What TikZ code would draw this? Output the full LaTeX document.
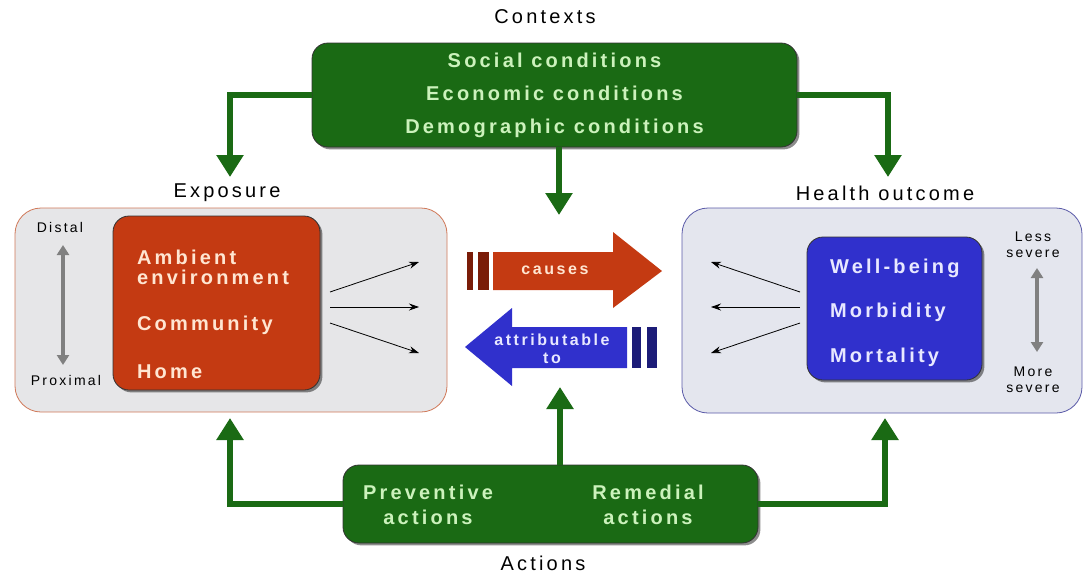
\documentclass[tikz,border=0pt]{standalone}
\usepackage{fontspec}
\setmainfont{Liberation Sans}
\newfontfamily\spfont[LetterSpace=16]{Liberation Sans}
\usetikzlibrary{arrows.meta,shadows}
\definecolor{ctxgreen}{HTML}{1A6A14}
\definecolor{txtgreen}{HTML}{CCF2BC}
\definecolor{exred}{HTML}{C43A12}
\definecolor{exredd}{HTML}{7A1C08}
\definecolor{exedge}{HTML}{D07858}
\definecolor{exgray}{HTML}{E6E6E8}
\definecolor{hoblue}{HTML}{3030CC}
\definecolor{hoblued}{HTML}{1C1C78}
\definecolor{hoedge}{HTML}{5A5AA8}
\definecolor{hogray}{HTML}{E4E6EE}
\definecolor{peach}{HTML}{FFE6D2}
\definecolor{lilac}{HTML}{E8E8FF}
\tikzset{
  lbl/.style={font=\spfont\fontsize{10}{12}\selectfont},
  boxtxt/.style={font=\spfont\bfseries\fontsize{10}{12}\selectfont},
  smalltxt/.style={font=\spfont\fontsize{7}{8}\selectfont,align=center},
  arrowtxt/.style={font=\spfont\bfseries\fontsize{8}{9}\selectfont,align=center},
  panel/.style={draw,thin,rounded corners=13pt,inner sep=0pt},
  core/.style={draw=black!80,rounded corners=8pt,inner sep=0pt,
    drop shadow={shadow xshift=1.2pt,shadow yshift=-1.2pt,fill=black,opacity=.45}},
  greenbox/.style={core,fill=ctxgreen,text=txtgreen,boxtxt,align=center},
  gflow/.style={draw=ctxgreen,line width=3pt,-{Triangle[width=13pt,length=11pt]}},
  infl/.style={thin,-{Stealth[length=5pt,width=3.5pt]}},
  sevrange/.style={draw=gray,line width=2pt,
    {Triangle[width=6pt,length=5pt]}-{Triangle[width=6pt,length=5pt]}}
}
\begin{document}
\begin{tikzpicture}[x=.5pt,y=-.5pt]
\useasboundingbox (0,0) rectangle (1083,574);
\node[lbl] (ctxlbl) at (545,17) {Contexts};
\node[greenbox,minimum width=242.5pt,minimum height=52pt] (ctx) at (554.5,95)
  {Social conditions\\[4.5pt]Economic conditions\\[4.5pt]Demographic conditions};
\node[lbl] (explbl) at (227,193) {Exposure};
\node[lbl] (hlbl) at (885,193) {Health outcome};
\node[panel,draw=exedge,fill=exgray,minimum width=216pt,minimum height=102pt] (expo) at (231,310) {};
\node[panel,draw=hoedge,fill=hogray,minimum width=200pt,minimum height=102.5pt] (hout) at (882,310.5) {};
\node[core,fill=exred,minimum width=103.5pt,minimum height=87pt] (amb) at (216.5,303) {};
\node[boxtxt,text=peach,anchor=west,align=left] (ambtxt) at (130,267) {Ambient\\[-2pt]environment};
\node[boxtxt,text=peach,anchor=west] (comm) at (130,325) {Community};
\node[boxtxt,text=peach,anchor=west] (home) at (130,372) {Home};
\node[core,fill=hoblue,minimum width=87.5pt,minimum height=71.5pt] (wb) at (894.5,308.5) {};
\node[boxtxt,text=lilac,anchor=west] (well) at (823,268) {Well-being};
\node[boxtxt,text=lilac,anchor=west] (morb) at (823,312) {Morbidity};
\node[boxtxt,text=lilac,anchor=west] (mort) at (823,357) {Mortality};
\node[smalltxt] (distal) at (60,227) {Distal};
\node[smalltxt] (prox) at (66,380) {Proximal};
\coordinate (dtop) at (63,245);
\coordinate (dbot) at (63,365);
\draw[sevrange] (dtop) -- (dbot);
\node[smalltxt] (less) at (1033,245) {Less\\severe};
\node[smalltxt] (more) at (1033,380) {More\\severe};
\coordinate (stop) at (1037,268);
\coordinate (sbot) at (1037,352);
\draw[sevrange] (stop) -- (sbot);
\foreach \s/\e [count=\i] in {292/262,307/307,323/353}{
  \coordinate (es\i) at (330,\s);
  \coordinate (ee\i) at (419,\e);
  \draw[infl] (es\i) -- (ee\i);
  \coordinate (hs\i) at (800,\s);
  \coordinate (he\i) at (711,\e);
  \draw[infl] (hs\i) -- (he\i);
}
\begin{scope}[drop shadow={shadow xshift=1pt,shadow yshift=-1pt,fill=black,opacity=.5}]
\fill[exredd] (467,252) rectangle (473,290);
\fill[exredd] (478,252) rectangle (489,290);
\fill[exred] (493,252) -- (613,252) -- (613,232) -- (662,271) -- (613,308) -- (613,290) -- (493,290) -- cycle;
\fill[hoblue] (465,347) -- (512,308) -- (512,327) -- (627,327) -- (627,368) -- (512,368) -- (512,386) -- cycle;
\fill[hoblued] (632,327) rectangle (641,368);
\fill[hoblued] (647,327) rectangle (657,368);
\end{scope}
\node[arrowtxt,text=peach] (causes) at (555,270) {causes};
\node[arrowtxt,text=lilac] (attr) at (552,349) {attributable\\to};
\coordinate (expin) at (230,177);
\coordinate (hin) at (888,177);
\coordinate (midin) at (559,215);
\draw[gflow] (ctx.west) -| (expin);
\draw[gflow] (ctx.east) -| (hin);
\draw[gflow] (ctx.south -| midin) -- (midin);
\node[greenbox,minimum width=207.5pt,minimum height=39pt] (act) at (550.5,504) {};
\node[boxtxt,text=txtgreen,align=center] (prev) at (428,505) {Preventive\\[0.5pt]actions};
\node[boxtxt,text=txtgreen,align=center] (rem) at (648,505) {Remedial\\[0.5pt]actions};
\coordinate (expup) at (230,418);
\coordinate (hup) at (885,418);
\coordinate (midup) at (560,387);
\draw[gflow] (act.west) -| (expup);
\draw[gflow] (act.east) -| (hup);
\draw[gflow] (act.north -| midup) -- (midup);
\node[lbl] (actlbl) at (543,563) {Actions};
\end{tikzpicture}
\end{document}
